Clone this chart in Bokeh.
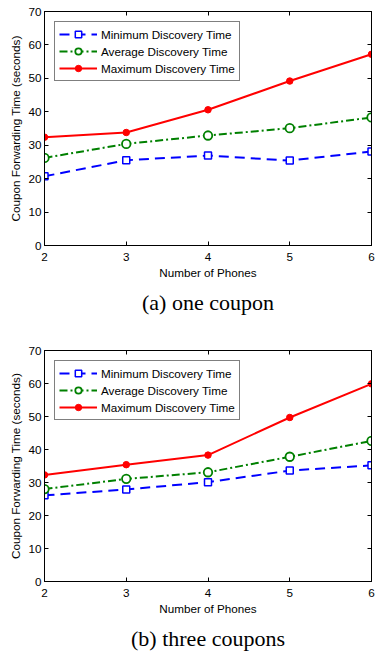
from bokeh.plotting import figure
from bokeh.models import LinearAxis, FixedTicker, Range1d
from bokeh.layouts import column
from bokeh.embed import file_html
from bokeh.resources import INLINE

phones = [2, 3, 4, 5, 6]
min_a = [20.7, 25.5, 26.9, 25.4, 28.1]
avg_a = [26.2, 30.4, 32.9, 35.1, 38.3]
max_a = [32.4, 33.8, 40.6, 49.2, 57.2]
min_b = [26.1, 27.9, 30.1, 33.6, 35.2]
avg_b = [28.0, 31.1, 33.1, 37.8, 42.6]
max_b = [32.3, 35.4, 38.3, 49.7, 59.9]
x_ticks = [2, 3, 4, 5, 6]
y_ticks = [0, 10, 20, 30, 40, 50, 60, 70]
caption_a = "(a) one coupon"
caption_b = "(b) three coupons"
labels = ["Minimum Discovery Time", "Average Discovery Time", "Maximum Discovery Time"]

SANS = "Liberation Sans"
FS = "11.7px"


def style_axis(ax, ticks, show_labels):
    ax.ticker = FixedTicker(ticks=ticks)
    ax.major_tick_in = 4
    ax.major_tick_out = 0
    ax.minor_tick_line_color = None
    ax.axis_line_color = "black"
    ax.major_tick_line_color = "black"
    ax.major_label_text_font = SANS
    ax.major_label_text_color = "black"
    ax.axis_label_text_font = SANS
    ax.axis_label_text_font_size = FS
    ax.axis_label_text_font_style = "normal"
    ax.axis_label_text_color = "black"
    if show_labels:
        ax.major_label_text_font_size = FS
    else:
        ax.major_label_text_font_size = "1px"
        ax.major_label_text_color = None
        ax.major_label_standoff = 0


def make(caption, mins, avgs, maxs, height, top, bottom):
    p = figure(width=375, height=height, x_range=Range1d(2, 6), y_range=Range1d(0, 70),
               output_backend="svg", toolbar_location=None,
               min_border_left=44, min_border_right=4, min_border_top=top,
               min_border_bottom=bottom, title=caption, title_location="below")
    p.grid.visible = False
    p.outline_line_color = "black"
    p.outline_line_width = 1

    p.line(phones, mins, color="#0000ff", line_width=2, line_dash="10 6", legend_label=labels[0])
    p.scatter(phones, mins, marker="square", size=7, line_color="#0000ff", fill_color="white",
              line_width=1.5, legend_label=labels[0])
    p.line(phones, avgs, color="#008000", line_width=2, line_dash="8 3 2 3", legend_label=labels[1])
    p.scatter(phones, avgs, marker="circle", size=8.5, line_color="#008000", fill_color="white",
              line_width=1.8, legend_label=labels[1])
    p.line(phones, maxs, color="#ff0000", line_width=2, legend_label=labels[2])
    p.scatter(phones, maxs, marker="circle", size=6.5, line_color="#ff0000", fill_color="#ff0000",
              legend_label=labels[2])

    style_axis(p.xaxis[0], x_ticks, True)
    style_axis(p.yaxis[0], y_ticks, True)
    p.xaxis[0].axis_label = "Number of Phones"
    p.xaxis[0].major_label_standoff = 7
    p.xaxis[0].axis_label_standoff = 2
    p.yaxis[0].axis_label = "Coupon Forwarding Time (seconds)"
    p.yaxis[0].major_label_standoff = 3
    p.yaxis[0].axis_label_standoff = 3

    top_ax = LinearAxis()
    style_axis(top_ax, x_ticks, False)
    p.add_layout(top_ax, "above")
    right_ax = LinearAxis()
    style_axis(right_ax, y_ticks, False)
    p.add_layout(right_ax, "right")

    lg = p.legend[0]
    lg.location = "top_left"
    lg.border_line_color = "black"
    lg.border_line_width = 1
    lg.label_text_font = SANS
    lg.label_text_font_size = FS
    lg.label_text_color = "black"
    lg.glyph_width = 38
    lg.glyph_height = 16
    lg.label_height = 16
    lg.spacing = 1
    lg.padding = 4
    lg.margin = 10
    lg.label_standoff = 4

    p.title.text_font = "Liberation Serif"
    p.title.text_font_size = "22px"
    p.title.text_font_style = "normal"
    p.title.text_color = "black"
    p.title.align = "center"
    p.title.standoff = 12
    return p


p1 = make(caption_a, min_a, avg_a, max_a, 328, 11, 83)
p2 = make(caption_b, min_b, avg_b, max_b, 328, 22, 71)
layout = column(p1, p2, spacing=0)

open("out.html", "w").write(file_html(layout, INLINE))
